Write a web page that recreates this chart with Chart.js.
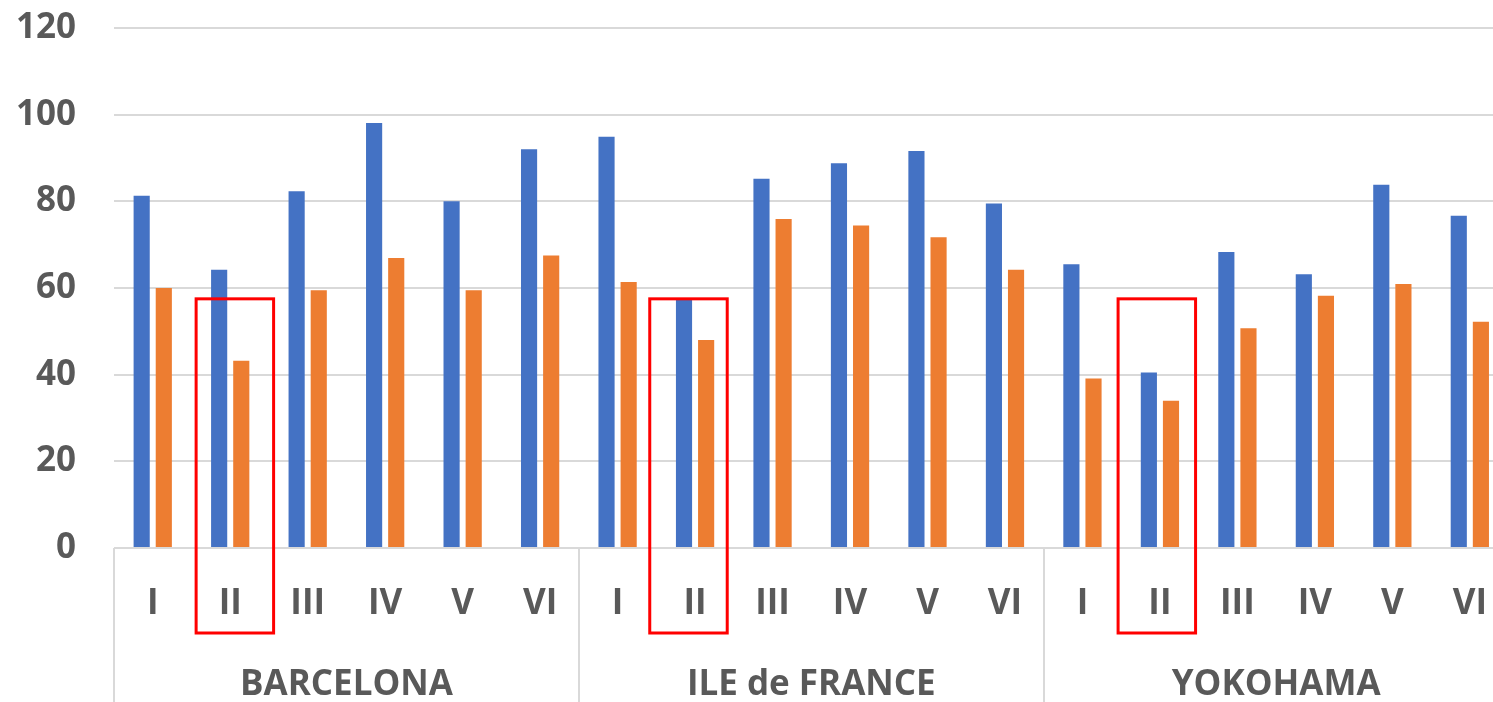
<!DOCTYPE html>
<html>
<head>
<meta charset="utf-8">
<script src="https://cdn.jsdelivr.net/npm/chart.js@4"></script>
<style>
  html, body { margin: 0; padding: 0; background: #fff; overflow: hidden; }
  #wrap { width: 1514px; height: 702px; }
</style>
</head>
<body>
<div id="wrap"><canvas id="c" width="1514" height="702"></canvas></div>
<script>
// Sites and campaigns
const groups = ['BARCELONA', 'ILE de FRANCE', 'YOKOHAMA'];
const periods = ['I', 'II', 'III', 'IV', 'V', 'VI'];

// Two measured series, one value per site/campaign (site order as in groups)
const seriesA = [
  81.3, 64.2, 82.3, 98.1, 80.0, 92.0,
  94.9, 57.5, 85.2, 88.8, 91.6, 79.5,
  65.5, 40.5, 68.3, 63.2, 83.8, 76.7
];
const seriesB = [
  60.0, 43.2, 59.5, 66.9, 59.5, 67.5,
  61.4, 48.0, 75.9, 74.4, 71.7, 64.2,
  39.1, 34.0, 50.7, 58.2, 60.9, 52.2
];

// Highlighted campaign in every site
const highlightPeriod = 'II';
const highlightTop = 57.5;

const labels = [];
groups.forEach(g => periods.forEach(p => labels.push(p)));

const TEXT = '#595959';
const GRID = '#D9D9D9';
const FONT = 'Open Sans';

// Vertical separators between the sites below the category axis
const groupSeparators = {
  id: 'groupSeparators',
  afterDraw(chart) {
    const x = chart.scales.x;
    const ctx = chart.ctx;
    const cw = x.getPixelForValue(1) - x.getPixelForValue(0);
    ctx.save();
    ctx.strokeStyle = GRID;
    ctx.lineWidth = 2;
    for (let g = 0; g <= groups.length; g++) {
      const px = Math.round(x.getPixelForValue(g * periods.length) - cw / 2);
      ctx.beginPath();
      ctx.moveTo(px, chart.chartArea.bottom);
      ctx.lineTo(px, chart.height);
      ctx.stroke();
    }
    ctx.restore();
  }
};

// Red frames around the highlighted campaign
const frameShift = [-0.44, -0.585, -0.54];
const highlightFrames = {
  id: 'highlightFrames',
  afterDraw(chart) {
    const x = chart.scales.x;
    const y = chart.scales.y;
    const ctx = chart.ctx;
    const cw = x.getPixelForValue(1) - x.getPixelForValue(0);
    const idx = periods.indexOf(highlightPeriod);
    ctx.save();
    ctx.strokeStyle = '#FF0000';
    ctx.lineWidth = 3;
    groups.forEach((g, gi) => {
      const c = x.getPixelForValue(gi * periods.length + idx);
      const left = c + frameShift[gi] * cw;
      const top = y.getPixelForValue(highlightTop);
      const bottom = x.bottom - 7;
      ctx.strokeRect(left, top, cw, bottom - top);
    });
    ctx.restore();
  }
};

new Chart(document.getElementById('c'), {
  type: 'bar',
  data: {
    labels: labels,
    datasets: [
      { data: seriesA, backgroundColor: '#4472C4', borderWidth: 0,
        categoryPercentage: 0.571, barPercentage: 0.73 },
      { data: seriesB, backgroundColor: '#ED7D31', borderWidth: 0,
        categoryPercentage: 0.571, barPercentage: 0.73 }
    ]
  },
  options: {
    responsive: false,
    devicePixelRatio: 1,
    animation: false,
    layout: { padding: { top: 28, left: 0, right: 0, bottom: 0 } },
    plugins: { legend: { display: false }, tooltip: { enabled: false } },
    scales: {
      y: {
        min: 0, max: 120,
        ticks: { stepSize: 20, color: TEXT, padding: 38,
                 font: { family: FONT, size: 35, weight: 'bold' } },
        grid: { color: GRID, lineWidth: 2, drawTicks: false },
        border: { display: false },
        afterFit(s) {
          s.width = 114;
          s.paddingTop = 20;
          s.paddingBottom = 20;
        }
      },
      x: {
        type: 'category',
        position: 'bottom',
        grid: { display: false },
        border: { display: false },
        ticks: { color: TEXT, padding: 27, autoSkip: false, maxRotation: 0,
                 font: { family: FONT, size: 35, weight: 'bold' } },
        afterFit(s) { s.height = 92; }
      },
      x2: {
        type: 'category',
        position: 'bottom',
        labels: groups,
        offset: true,
        grid: { display: false },
        border: { display: false },
        ticks: { color: TEXT, padding: 16, autoSkip: false, maxRotation: 0,
                 font: { family: FONT, size: 35, weight: 'bold' } },
        afterFit(s) { s.height = 62; }
      }
    }
  },
  plugins: [groupSeparators, highlightFrames]
});
</script>
</body>
</html>
